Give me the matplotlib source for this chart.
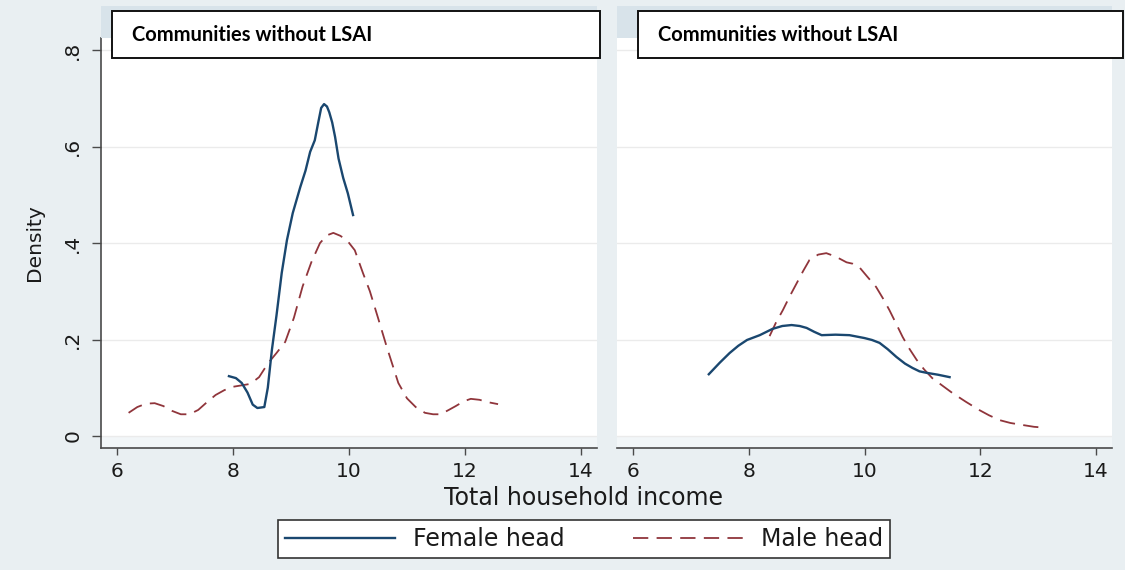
import matplotlib
matplotlib.use("Agg")
import matplotlib.pyplot as plt
from matplotlib.patches import Rectangle
from matplotlib.lines import Line2D

plt.rcParams['font.family'] = ['DejaVu Sans']
plt.rcParams['lines.scale_dashes'] = False

# ---- data: kernel density of total household income ----
panel_titles = ["Communities without LSAI", "Communities without LSAI"]
series_labels = ["Female head", "Male head"]

left_female_x = [7.93, 8.05, 8.15, 8.25, 8.34, 8.42, 8.54, 8.60, 8.67, 8.75, 8.84, 8.93,
                 9.03, 9.16, 9.25, 9.33, 9.41, 9.47, 9.52, 9.57, 9.62, 9.66, 9.71, 9.76,
                 9.82, 9.90, 9.98, 10.07]
left_female_y = [0.124, 0.120, 0.110, 0.090, 0.065, 0.058, 0.060, 0.100, 0.178, 0.250, 0.338, 0.406,
                 0.462, 0.516, 0.550, 0.589, 0.613, 0.650, 0.680, 0.688, 0.683, 0.671, 0.650, 0.620,
                 0.575, 0.535, 0.503, 0.458]

left_male_x = [6.20, 6.35, 6.50, 6.65, 6.80, 6.95, 7.10, 7.25, 7.40, 7.55, 7.70, 7.85, 8.00,
               8.15, 8.30, 8.45, 8.60, 8.75, 8.90, 9.05, 9.20, 9.35, 9.50, 9.62, 9.73, 9.85,
               9.97, 10.10, 10.24, 10.36, 10.50, 10.65, 10.85, 11.00, 11.15, 11.31, 11.45,
               11.58, 11.72, 11.84, 11.98, 12.10, 12.25, 12.40, 12.57]
left_male_y = [0.048, 0.060, 0.067, 0.068, 0.062, 0.052, 0.045, 0.045, 0.054, 0.070, 0.085, 0.095, 0.102,
               0.105, 0.108, 0.122, 0.150, 0.172, 0.195, 0.245, 0.310, 0.360, 0.400, 0.416, 0.421, 0.415,
               0.405, 0.385, 0.338, 0.300, 0.245, 0.185, 0.110, 0.078, 0.060, 0.048, 0.045,
               0.045, 0.054, 0.062, 0.072, 0.077, 0.075, 0.070, 0.066]

right_female_x = [7.31, 7.50, 7.67, 7.82, 7.97, 8.19, 8.41, 8.58, 8.74, 8.88, 9.00, 9.13, 9.26,
                  9.50, 9.74, 9.87, 10.00, 10.13, 10.26, 10.40, 10.55, 10.70, 10.83, 10.95,
                  11.07, 11.27, 11.47]
right_female_y = [0.128, 0.152, 0.172, 0.187, 0.199, 0.209, 0.222, 0.228, 0.230, 0.228, 0.224, 0.216, 0.209,
                  0.210, 0.209, 0.206, 0.203, 0.199, 0.193, 0.180, 0.164, 0.150, 0.141, 0.134,
                  0.131, 0.127, 0.122]

right_male_x = [8.36, 8.47, 8.59, 8.71, 8.83, 8.94, 9.05, 9.20, 9.34, 9.50, 9.69, 9.80, 9.91,
                10.05, 10.20, 10.32, 10.43, 10.55, 10.66, 10.78, 10.90, 11.03, 11.17, 11.35,
                11.52, 11.75, 11.98, 12.15, 12.33, 12.52, 12.72, 12.93, 13.14]
right_male_y = [0.207, 0.235, 0.261, 0.290, 0.317, 0.342, 0.365, 0.376, 0.379, 0.372, 0.360, 0.357, 0.350,
                0.330, 0.309, 0.285, 0.261, 0.232, 0.205, 0.180, 0.158, 0.138, 0.120, 0.104,
                0.089, 0.071, 0.054, 0.043, 0.033, 0.027, 0.023, 0.019, 0.017]

x_ticks = [6, 8, 10, 12, 14]
y_ticks = [0, 0.2, 0.4, 0.6, 0.8]
y_tick_labels = ["0", ".2", ".4", ".6", ".8"]

# ---- styling ----
W, H = 1125, 570
BG = '#e9eff2'
STRIP = '#d8e3ea'
FEMALE_C = '#1a476f'
MALE_C = '#90353b'
MALE_DASH = (0, (11, 6))

fig = plt.figure(figsize=(W / 100, H / 100), dpi=100, facecolor=BG)


def fx(px):
    return px / W


def fy(py):
    return 1 - py / H


def axes_at(x0, x1, y0, y1):
    return fig.add_axes([fx(x0), fy(y1), fx(x1 - x0), (y1 - y0) / H])


ax1 = axes_at(101, 597, 38, 448)
ax2 = axes_at(617, 1112, 38, 448)

panels = [
    (ax1, left_female_x, left_female_y, left_male_x, left_male_y),
    (ax2, right_female_x, right_female_y, right_male_x, right_male_y),
]

for i, (ax, fxs, fys, mxs, mys) in enumerate(panels):
    ax.set_facecolor('white')
    ax.set_xlim(5.724, 14.276)
    ax.set_ylim(-0.0249, 0.825)
    ax.axhspan(-0.0249, 0, color='#f2f6f8', lw=0, zorder=0)
    for yv in y_ticks:
        ax.axhline(yv, color='#ebebeb', lw=1.0, zorder=0.5)
    ax.plot(fxs, fys, color=FEMALE_C, lw=1.7, zorder=3)
    ax.plot(mxs, mys, color=MALE_C, lw=1.3, linestyle=MALE_DASH, zorder=2)

    for s in ['top', 'right']:
        ax.spines[s].set_visible(False)
    ax.spines['bottom'].set_color('#4a4a4a')
    ax.spines['bottom'].set_linewidth(1.2)
    ax.spines['left'].set_color('#4a4a4a')
    ax.spines['left'].set_linewidth(1.2)

    ax.set_xticks(x_ticks)
    ax.set_xticklabels([str(t) for t in x_ticks])
    ax.tick_params(axis='x', direction='out', length=5, width=1, color='#4a4a4a',
                   pad=5, labelsize=14.5, labelcolor='#1a1a1a')
    ax.set_yticks(y_ticks)
    if i == 0:
        ax.set_yticklabels(y_tick_labels, rotation=90, va='center')
        ax.tick_params(axis='y', direction='out', length=6.5, width=1, color='#4a4a4a',
                       pad=7, labelsize=14.5, labelcolor='#1a1a1a')
    else:
        ax.spines['left'].set_visible(False)
        ax.tick_params(axis='y', left=False, labelleft=False)

# subtitle strips above each panel
for x0, x1 in [(101, 597), (617, 1112)]:
    fig.patches.append(Rectangle((fx(x0), fy(38)), fx(x1 - x0), 32 / H,
                                 transform=fig.transFigure, facecolor=STRIP,
                                 edgecolor='none', zorder=1))

# boxed panel titles
for (x0, x1), title in zip([(112, 600), (638, 1123)], panel_titles):
    fig.patches.append(Rectangle((fx(x0), fy(58)), fx(x1 - x0), 47 / H,
                                 transform=fig.transFigure, facecolor='white',
                                 edgecolor='#111111', linewidth=1.4, zorder=2))
    fig.text(fx(x0 + 20), fy(35), title, family='Lato', fontweight='bold',
             fontsize=14.5, color='black', ha='left', va='center', zorder=3)

# axis titles
fig.text(fx(584), fy(498), 'Total household income', fontsize=17, color='#1a1a1a',
         ha='center', va='center')
fig.text(fx(35), fy(243), 'Density', fontsize=14.5, color='#1a1a1a', rotation=90,
         ha='center', va='center')

# legend
handles = [Line2D([], [], color=FEMALE_C, lw=1.7),
           Line2D([], [], color=MALE_C, lw=1.3, linestyle=MALE_DASH)]
leg = fig.legend(handles, series_labels, ncol=2, loc='center',
                 bbox_to_anchor=(fx(584), fy(539)), fontsize=17, frameon=True,
                 fancybox=False, edgecolor='#333333', facecolor='white', framealpha=1,
                 handlelength=4.66, handletextpad=0.76, columnspacing=2.9,
                 borderpad=0.3, borderaxespad=0)
leg.get_frame().set_linewidth(1.2)
for t in leg.get_texts():
    t.set_color('#1a1a1a')

fig.savefig('out.png', dpi=100, facecolor=BG)
